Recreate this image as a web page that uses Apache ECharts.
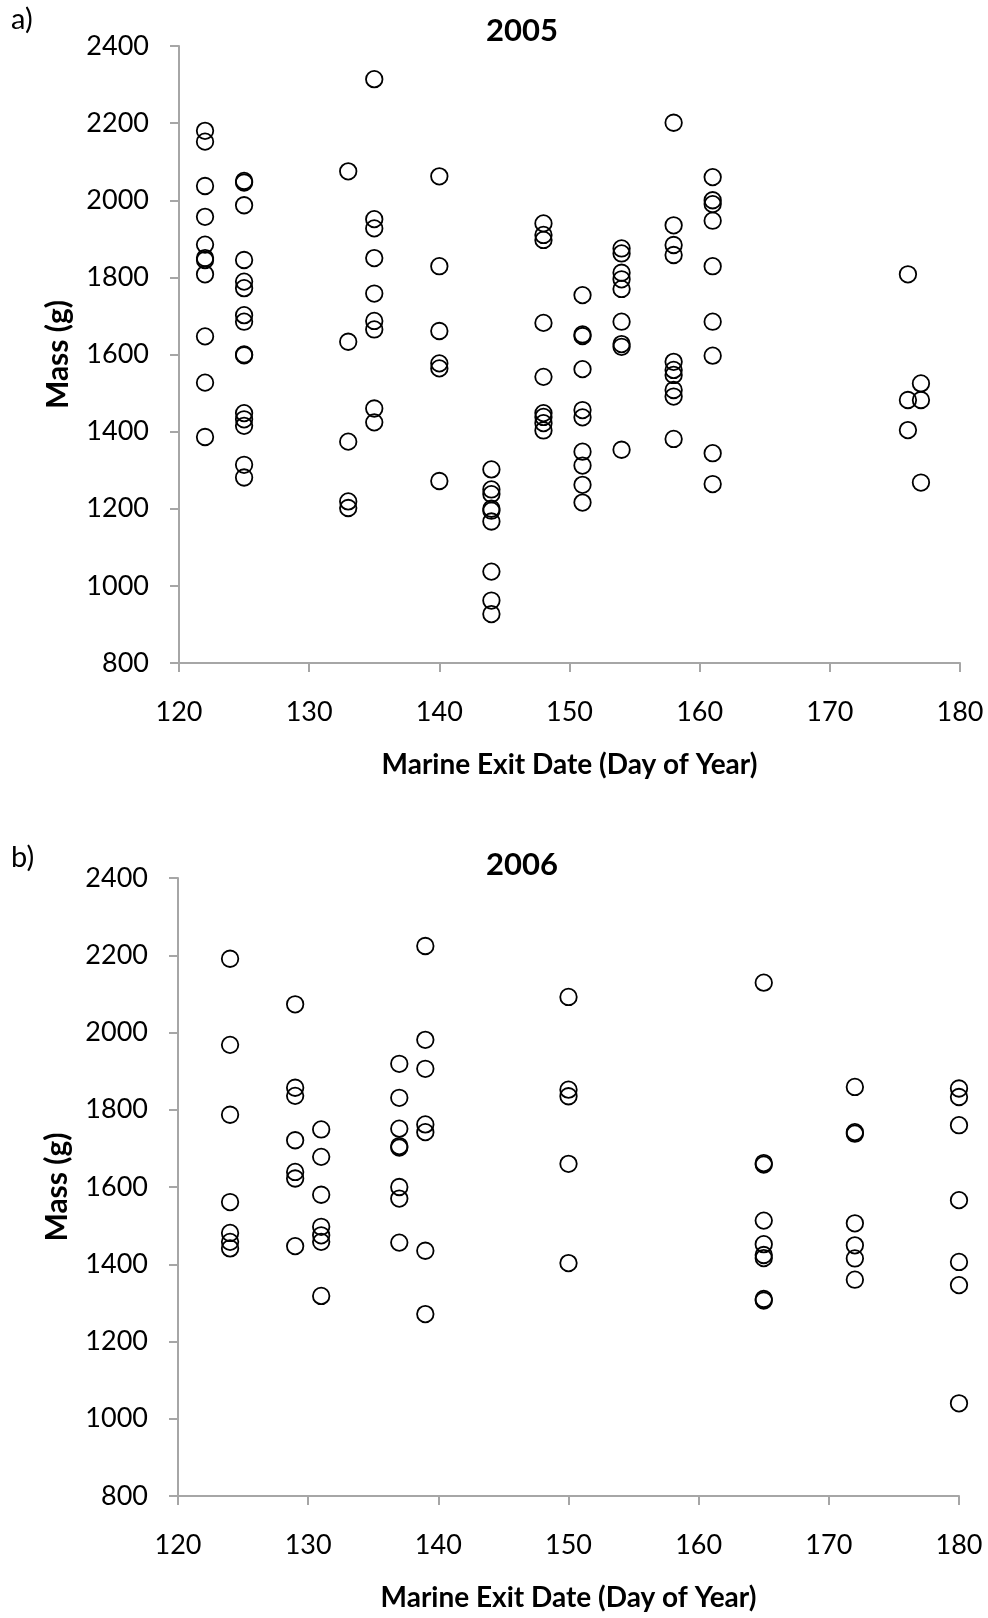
<!DOCTYPE html>
<html>
<head>
<meta charset="utf-8">
<script src="https://cdn.jsdelivr.net/npm/echarts@6/dist/echarts.min.js"></script>
<style>
  html, body { margin: 0; padding: 0; background: #fff; }
  #chart { width: 988px; height: 1618px; }
</style>
</head>
<body>
<div id="chart"></div>
<script>
// Marine exit day (day of year) and body mass (g) of each fish, grouped by exit day.
const exitDays2005 = [122, 125, 133, 135, 140, 144, 148, 151, 154, 158, 161, 176, 177];
const masses2005 = [
  [2180, 2152, 2037, 1957, 1885, 1850, 1845, 1808, 1647, 1527, 1386],
  [2050, 2046, 1987, 1845, 1789, 1772, 1702, 1685, 1600, 1598, 1448, 1432, 1415, 1314, 1281],
  [2075, 1633, 1374, 1219, 1202],
  [2314, 1951, 1927, 1850, 1758, 1687, 1665, 1460, 1424],
  [2062, 1829, 1661, 1577, 1564, 1272],
  [1302, 1250, 1238, 1200, 1195, 1167, 1037, 962, 927],
  [1940, 1910, 1897, 1682, 1542, 1448, 1438, 1422, 1403],
  [1754, 1652, 1648, 1562, 1456, 1437, 1348, 1312, 1262, 1216],
  [1875, 1862, 1812, 1795, 1770, 1685, 1627, 1620, 1353],
  [2201, 1935, 1884, 1858, 1581, 1560, 1547, 1508, 1491, 1381],
  [2060, 2000, 1990, 1947, 1829, 1685, 1597, 1344, 1264],
  [1808, 1482, 1404],
  [1525, 1482, 1268]
];

const exitDays2006 = [124, 129, 131, 137, 139, 150, 165, 172, 180];
const masses2006 = [
  [2191, 1968, 1787, 1561, 1481, 1458, 1441],
  [2073, 1857, 1836, 1721, 1639, 1622, 1447],
  [1749, 1678, 1580, 1497, 1475, 1458, 1318],
  [1919, 1831, 1751, 1706, 1702, 1600, 1570, 1456],
  [2224, 1981, 1906, 1762, 1742, 1435, 1271],
  [2092, 1852, 1835, 1660, 1403],
  [2129, 1662, 1658, 1513, 1452, 1424, 1416, 1310, 1306],
  [1859, 1742, 1738, 1506, 1449, 1415, 1360],
  [1855, 1833, 1760, 1566, 1406, 1346, 1040]
];

const panelTitles = ['2005', '2006'];
const panelLetters = ['a)', 'b)'];
const xAxisTitle = 'Marine Exit Date (Day of Year)';
const yAxisTitle = 'Mass (g)';
const dayRange = [120, 180, 10];
const massRange = [800, 2400, 200];

function toPoints(days, masses) {
  const pts = [];
  days.forEach((d, i) => masses[i].forEach(m => pts.push([d, m])));
  return pts;
}

const FONT = 'Lato, "Open Sans", sans-serif';
const AXIS_GREY = '#a6a6a6';

const grids = [
  { left: 179, top: 46, width: 781, height: 617 },
  { left: 178, top: 878, width: 781, height: 618 }
];

function xAxisFor(i) {
  return {
    gridIndex: i, type: 'value',
    min: dayRange[0], max: dayRange[1], interval: dayRange[2],
    axisLine: { show: true, lineStyle: { color: AXIS_GREY, width: 2 } },
    axisTick: { show: true, length: 9, lineStyle: { color: AXIS_GREY, width: 2 } },
    splitLine: { show: false },
    axisLabel: { fontSize: 27, color: '#000', margin: 36, fontFamily: FONT,
                 formatter: v => String(v) },
    name: xAxisTitle, nameLocation: 'middle', nameGap: 88,
    nameTextStyle: { fontSize: 28, fontWeight: 'bold', color: '#000', fontFamily: FONT }
  };
}

function yAxisFor(i) {
  return {
    gridIndex: i, type: 'value',
    min: massRange[0], max: massRange[1], interval: massRange[2],
    axisLine: { show: true, lineStyle: { color: AXIS_GREY, width: 2 } },
    axisTick: { show: true, length: 9, lineStyle: { color: AXIS_GREY, width: 2 } },
    splitLine: { show: false },
    axisLabel: { fontSize: 27, color: '#000', margin: 30, fontFamily: FONT,
                 formatter: v => String(v) },
    name: yAxisTitle, nameLocation: 'middle', nameGap: 106,
    nameTextStyle: { fontSize: 30, fontWeight: 'bold', color: '#000', fontFamily: FONT }
  };
}

function scatterFor(i, data) {
  return {
    type: 'scatter', xAxisIndex: i, yAxisIndex: i,
    data: data,
    symbol: 'circle', symbolSize: 16.5,
    itemStyle: { color: 'rgba(0,0,0,0)', borderColor: '#000', borderWidth: 1.8, opacity: 1 },
    emphasis: { disabled: true },
    silent: true
  };
}

const chart = echarts.init(document.getElementById('chart'), null, { renderer: 'canvas' });
chart.setOption({
  animation: false,
  backgroundColor: '#fff',
  title: [
    { text: panelTitles[0], left: 522, top: 15, textAlign: 'center', padding: 0,
      textStyle: { fontSize: 31, fontWeight: 'bold', color: '#000', fontFamily: FONT } },
    { text: panelTitles[1], left: 522, top: 849, textAlign: 'center', padding: 0,
      textStyle: { fontSize: 31, fontWeight: 'bold', color: '#000', fontFamily: FONT } },
    { text: panelLetters[0], left: 11, top: 5, padding: 0,
      textStyle: { fontSize: 29, fontWeight: 'normal', color: '#000', fontFamily: FONT } },
    { text: panelLetters[1], left: 11, top: 843, padding: 0,
      textStyle: { fontSize: 29, fontWeight: 'normal', color: '#000', fontFamily: FONT } }
  ],
  grid: grids,
  xAxis: [xAxisFor(0), xAxisFor(1)],
  yAxis: [yAxisFor(0), yAxisFor(1)],
  series: [
    scatterFor(0, toPoints(exitDays2005, masses2005)),
    scatterFor(1, toPoints(exitDays2006, masses2006))
  ]
});
</script>
</body>
</html>
